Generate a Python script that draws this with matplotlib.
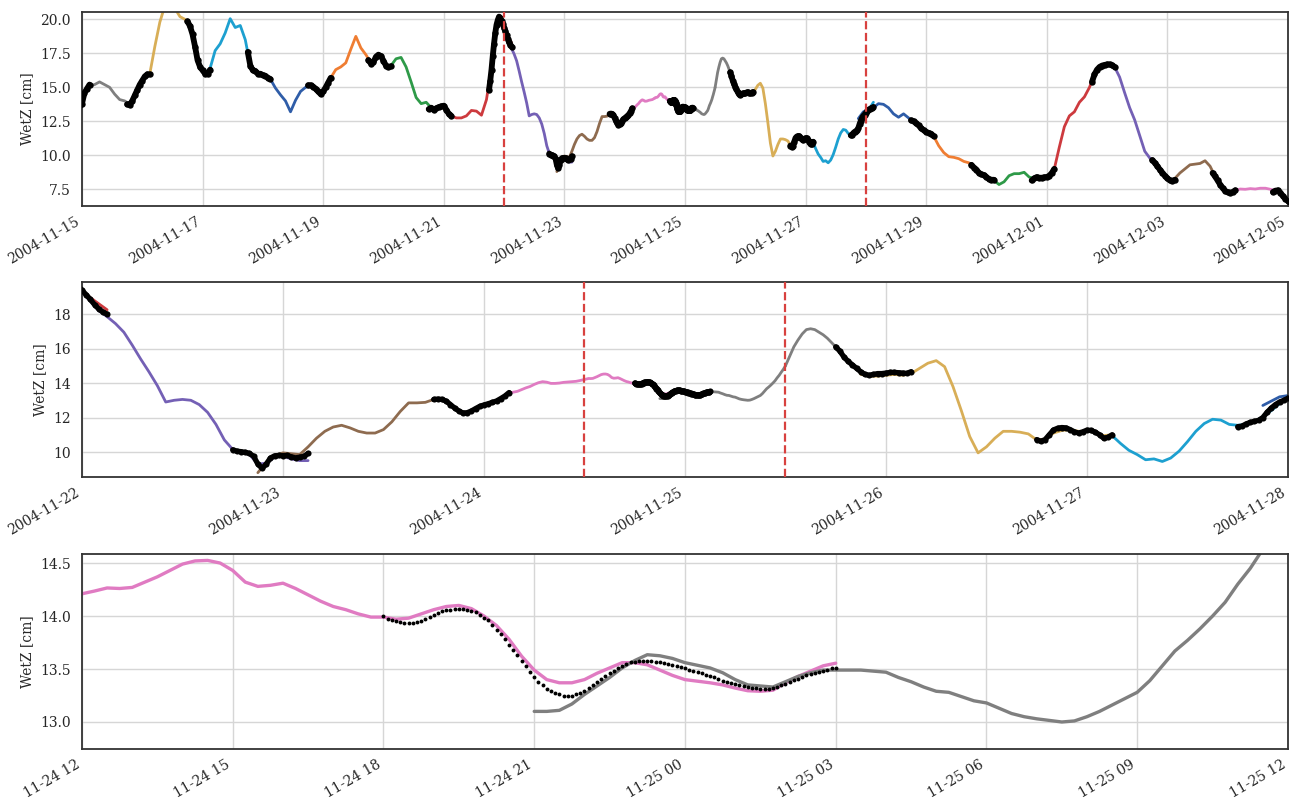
import matplotlib
matplotlib.use("Agg")
import matplotlib.pyplot as plt
import matplotlib.dates as mdates
import pandas as pd

plt.rcParams['font.family'] = ['DejaVu Serif']
plt.rcParams['font.size'] = 10

# Colour cycle used for the daily solutions (one colour per processing day)
palette = ['#2F5DA8', '#EF7D32', '#2E9A48', '#CD3A3E', '#7460B5',
           '#8E6B4F', '#E07BC2', '#7F7F7F', '#D8AE57', '#1DA0D0']
first_color = 7

# ---- daily WetZ solutions [cm]; each one runs 21:00 (day before) -> 03:00 (day after)
wetz_1115 = [13.0, 13.5, 14.5, 15.1, 15.2, 15.4, 15.2, 15.0, 14.5, 14.1, 14.0, 13.75, 14.4, 15.2, 15.8, 15.95]
wetz_1116 = [14.4, 15.2, 15.8, 16.0, 18.0, 19.8, 21.0, 21.4, 20.8, 20.2, 20.0, 19.5, 18.0, 16.5, 16.0, 16.3]
wetz_1117 = [18.0, 16.5, 16.0, 16.4, 17.7, 18.2, 19.0, 20.05, 19.4, 19.55, 18.5, 16.6, 16.2, 16.0, 15.85, 15.6]
wetz_1118 = [16.2, 16.0, 15.85, 15.6, 14.95, 14.45, 14.0, 13.2, 14.05, 14.7, 15.0, 15.1, 14.9, 14.5, 15.0, 15.6]
wetz_1119 = [14.9, 14.5, 15.0, 15.7, 16.3, 16.5, 16.8, 17.8, 18.75, 17.9, 17.4, 16.8, 17.25, 17.3, 16.6, 16.55]
wetz_1120 = [17.25, 17.3, 16.6, 16.6, 17.1, 17.2, 16.5, 15.4, 14.25, 13.8, 13.9, 13.5, 13.5, 13.6, 13.4, 12.95]
wetz_1121 = [13.5, 13.6, 13.3, 12.9, 12.75, 12.75, 12.9, 13.3, 13.25, 12.95, 14.1, 16.5, 19.6, 19.8, 18.95, 18.25]
wetz_1122 = [19.5, 20.1, 19.8, 19.3, 18.75, 18.2, 17.85, 17.45, 16.95, 16.2, 15.4, 14.65, 13.85, 12.9, 13.0,
             13.05, 13.0, 12.75, 12.3, 11.6, 10.7, 10.15, 10.0, 9.85, 9.3, 9.35, 9.7, 9.75, 9.6, 9.5, 9.5]
wetz_1123 = [8.8, 9.4, 9.8, 9.95, 9.9, 9.85, 10.3, 10.8, 11.2, 11.45, 11.55, 11.4, 11.2, 11.1, 11.1, 11.3,
             11.75, 12.35, 12.85, 12.85, 12.88, 13.05, 13.0, 12.75, 12.35, 12.3, 12.5, 12.7, 12.85, 13.1, 13.4]
# 11-24 solution: 30 min samples to 11-24 12:00, then 15 min samples to the end
wetz_1124 = [12.4, 12.3, 12.3, 12.4, 12.5, 12.62, 12.72, 12.8, 12.88, 12.98, 13.12, 13.27, 13.42, 13.47, 13.52,
             13.62, 13.72, 13.8, 13.92, 14.02, 14.08, 14.05, 13.98, 13.98, 14.0, 14.04, 14.06, 14.08, 14.1, 14.15,
             14.21]
wetz_1124_fine = [14.21, 14.236, 14.265, 14.26, 14.27, 14.32, 14.37, 14.43, 14.49, 14.52, 14.525, 14.50,
                  14.43, 14.32, 14.28, 14.29, 14.31, 14.26, 14.20, 14.14, 14.09, 14.06, 14.02, 13.99,
                  13.99, 13.97, 13.98, 14.02, 14.06, 14.09, 14.10, 14.07, 14.00, 13.91, 13.78, 13.62,
                  13.49, 13.40, 13.37, 13.37, 13.40, 13.46, 13.51, 13.56, 13.56, 13.54, 13.49, 13.44,
                  13.40, 13.385, 13.37, 13.35, 13.32, 13.295, 13.29, 13.30, 13.37, 13.43, 13.48, 13.53,
                  13.555]
# 11-25 solution: 15 min samples to 11-25 12:00, then 30 min samples to the end
wetz_1125_fine = [13.10, 13.10, 13.11, 13.17, 13.26, 13.34, 13.42, 13.51, 13.58, 13.635, 13.625, 13.60,
                  13.56, 13.535, 13.51, 13.465, 13.40, 13.35, 13.34, 13.33, 13.38, 13.43, 13.465, 13.49,
                  13.49, 13.49, 13.49, 13.48, 13.47, 13.42, 13.38, 13.33, 13.29, 13.28, 13.24, 13.20,
                  13.18, 13.13, 13.08, 13.05, 13.03, 13.015, 13.00, 13.01, 13.05, 13.10, 13.16, 13.22,
                  13.28, 13.39, 13.53, 13.67, 13.77, 13.88, 14.00, 14.13, 14.30, 14.45, 14.63, 14.80,
                  15.00]
wetz_1125 = [15.00, 15.55, 16.10, 16.50, 16.85, 17.10, 17.15, 17.10, 16.95, 16.80,
             16.60, 16.35, 16.10, 15.85, 15.50, 15.25, 15.05, 14.85, 14.65, 14.50,
             14.45, 14.50, 14.52, 14.55, 14.58, 14.60, 14.60, 14.60, 14.58, 14.55, 14.60]
wetz_1126 = [14.5, 14.4, 14.4, 14.45, 14.5, 14.45, 14.55, 14.85, 15.15, 15.3, 14.95, 13.8, 12.4, 10.9, 9.95,
             10.3, 10.8, 11.2, 11.2, 11.15, 11.05, 10.7, 10.75, 11.1, 11.25, 11.3, 11.2, 11.2, 11.15, 10.95, 11.0]
wetz_1127 = [11.35, 11.3, 11.15, 11.25, 11.15, 10.85, 10.95, 10.5, 10.1, 9.85, 9.55, 9.6, 9.45, 9.65, 10.05,
             10.6, 11.2, 11.65, 11.9, 11.85, 11.6, 11.55, 11.6, 11.75, 12.05, 12.4, 12.8, 13.1, 13.4, 13.6, 13.9]
wetz_1128 = [12.7, 13.2, 13.35, 13.5, 13.8, 13.75, 13.5, 13.05, 12.8, 13.05, 12.75, 12.5, 12.2, 11.85, 11.65, 11.4]
wetz_1129 = [12.2, 11.85, 11.65, 11.4, 10.7, 10.2, 9.9, 9.85, 9.75, 9.55, 9.45, 9.1, 8.7, 8.55, 8.25, 8.2]
wetz_1130 = [8.7, 8.55, 8.25, 8.15, 7.85, 8.05, 8.5, 8.65, 8.65, 8.75, 8.4, 8.3, 8.35, 8.38, 8.5, 9.0]
wetz_1201 = [8.35, 8.38, 8.5, 9.0, 10.6, 12.1, 12.9, 13.2, 13.9, 14.3, 15.0, 15.95, 16.5, 16.65, 16.68, 16.5]
wetz_1202 = [16.5, 16.65, 16.68, 16.5, 15.75, 14.6, 13.5, 12.6, 11.45, 10.3, 9.8, 9.45, 8.95, 8.5, 8.15, 8.2]
wetz_1203 = [8.95, 8.5, 8.15, 8.3, 8.7, 9.0, 9.3, 9.35, 9.4, 9.6, 9.2, 8.45, 7.85, 7.38, 7.25, 7.42]
wetz_1204 = [7.85, 7.38, 7.25, 7.42, 7.52, 7.5, 7.55, 7.52, 7.58, 7.58, 7.5, 7.4, 7.25, 6.8, 6.6, 6.55]

# one entry per processing day: pieces of (first epoch, sampling in minutes, values)
daily = [
    [("2004-11-14 21:00", 120, wetz_1115)], [("2004-11-15 21:00", 120, wetz_1116)],
    [("2004-11-16 21:00", 120, wetz_1117)], [("2004-11-17 21:00", 120, wetz_1118)],
    [("2004-11-18 21:00", 120, wetz_1119)], [("2004-11-19 21:00", 120, wetz_1120)],
    [("2004-11-20 21:00", 120, wetz_1121)], [("2004-11-21 21:00", 60, wetz_1122)],
    [("2004-11-22 21:00", 60, wetz_1123)],
    [("2004-11-23 21:00", 30, wetz_1124), ("2004-11-24 12:00", 15, wetz_1124_fine)],
    [("2004-11-24 21:00", 15, wetz_1125_fine), ("2004-11-25 12:00", 30, wetz_1125)],
    [("2004-11-25 21:00", 60, wetz_1126)], [("2004-11-26 21:00", 60, wetz_1127)],
    [("2004-11-27 21:00", 120, wetz_1128)], [("2004-11-28 21:00", 120, wetz_1129)],
    [("2004-11-29 21:00", 120, wetz_1130)], [("2004-11-30 21:00", 120, wetz_1201)],
    [("2004-12-01 21:00", 120, wetz_1202)], [("2004-12-02 21:00", 120, wetz_1203)],
    [("2004-12-03 21:00", 120, wetz_1204)],
]

# ---- combined solution across the day boundaries (18:00 -> 03:00)
comb_1115 = [13.0, 13.0, 13.2, 13.3, 13.5, 13.6, 13.8, 14.6, 14.9, 15.2]
comb_1116 = [13.75, 13.7, 14.0, 14.4, 14.8, 15.2, 15.5, 15.8, 15.95, 15.95]
comb_1117 = [19.85, 19.5, 18.9, 18.0, 17.0, 16.5, 16.25, 16.0, 16.0, 16.3]
comb_1118 = [17.6, 16.6, 16.25, 16.2, 16.0, 16.0, 15.9, 15.85, 15.7, 15.6]
comb_1119 = [15.15, 15.15, 15.05, 14.9, 14.7, 14.5, 14.7, 15.0, 15.35, 15.7]
comb_1120 = [17.0, 16.75, 16.85, 17.25, 17.4, 17.3, 16.95, 16.6, 16.5, 16.55]
comb_1121 = [13.4, 13.5, 13.35, 13.45, 13.55, 13.6, 13.65, 13.35, 13.05, 12.9]
comb_1122 = [14.8, 15.5, 16.3, 17.3, 18.2, 19.0, 19.6, 19.95, 20.2, 20.1, 19.85, 19.65, 19.39, 19.12,
             18.85, 18.55, 18.3, 18.12, 18.0]
comb_1123 = [10.13, 10.05, 10.02, 9.98, 9.92, 9.75, 9.3, 9.05, 9.3, 9.65, 9.78, 9.8, 9.79, 9.8, 9.72,
             9.66, 9.7, 9.75, 9.92]
comb_1124 = [13.05, 13.07, 13.05, 12.95, 12.75, 12.55, 12.38, 12.26, 12.28, 12.38, 12.52, 12.65, 12.73,
             12.8, 12.88, 12.96, 13.1, 13.25, 13.45]
comb_1125 = [14.00, 13.975, 13.96, 13.95, 13.94, 13.935, 13.93, 13.93, 13.94, 13.955, 13.97, 13.99,
             14.01, 14.03, 14.045, 14.055, 14.06, 14.065, 14.07, 14.07, 14.06, 14.05, 14.035, 14.01,
             13.985, 13.96, 13.92, 13.87, 13.83, 13.78, 13.73, 13.68, 13.635, 13.58, 13.53, 13.47,
             13.42, 13.38, 13.345, 13.31, 13.29, 13.27, 13.26, 13.25, 13.25, 13.25, 13.26, 13.27,
             13.29, 13.32, 13.35, 13.38, 13.41, 13.43, 13.46, 13.48, 13.51, 13.53, 13.55, 13.565,
             13.57, 13.575, 13.58, 13.58, 13.575, 13.57, 13.565, 13.555, 13.545, 13.535, 13.525, 13.515,
             13.505, 13.495, 13.485, 13.475, 13.46, 13.445, 13.43, 13.42, 13.405, 13.39, 13.38, 13.37,
             13.355, 13.345, 13.335, 13.33, 13.325, 13.32, 13.315, 13.315, 13.315, 13.32, 13.33, 13.345,
             13.36, 13.375, 13.395, 13.41, 13.425, 13.44, 13.455, 13.465, 13.475, 13.485, 13.495, 13.505,
             13.51]
comb_1126 = [16.1, 15.85, 15.5, 15.25, 15.05, 14.85, 14.65, 14.5, 14.45, 14.5, 14.55, 14.55, 14.58,
             14.62, 14.62, 14.6, 14.58, 14.56, 14.66]
comb_1127 = [10.72, 10.62, 10.72, 11.0, 11.28, 11.38, 11.42, 11.4, 11.3, 11.17, 11.1, 11.17, 11.27,
             11.25, 11.15, 11.0, 10.8, 10.85, 11.0]
comb_1128 = [11.47, 11.5, 11.63, 11.72, 11.78, 11.84, 12.0, 12.3, 12.55, 12.75, 12.9, 13.0, 13.12,
             13.25, 13.35, 13.4, 13.45, 13.5, 13.55]
comb_1129 = [12.57, 12.5, 12.35, 12.2, 11.98, 11.85, 11.72, 11.65, 11.58, 11.4]
comb_1130 = [9.3, 9.1, 8.95, 8.7, 8.6, 8.55, 8.4, 8.25, 8.2, 8.2]
comb_1201 = [8.15, 8.3, 8.4, 8.35, 8.35, 8.38, 8.4, 8.5, 8.7, 9.0]
comb_1202 = [15.4, 15.95, 16.3, 16.5, 16.6, 16.65, 16.68, 16.68, 16.62, 16.5]
comb_1203 = [9.65, 9.45, 9.2, 8.95, 8.72, 8.5, 8.3, 8.15, 8.12, 8.2]
comb_1204 = [8.7, 8.45, 8.15, 7.85, 7.6, 7.38, 7.28, 7.25, 7.3, 7.42]
comb_1205 = [7.3, 7.4, 7.42, 7.25, 7.0, 6.8, 6.65, 6.6, 6.55, 6.5]

combined = [
    ("2004-11-14 18:00", 60, comb_1115), ("2004-11-15 18:00", 60, comb_1116),
    ("2004-11-16 18:00", 60, comb_1117), ("2004-11-17 18:00", 60, comb_1118),
    ("2004-11-18 18:00", 60, comb_1119), ("2004-11-19 18:00", 60, comb_1120),
    ("2004-11-20 18:00", 60, comb_1121), ("2004-11-21 18:00", 30, comb_1122),
    ("2004-11-22 18:00", 30, comb_1123), ("2004-11-23 18:00", 30, comb_1124),
    ("2004-11-24 18:00", 5, comb_1125), ("2004-11-25 18:00", 30, comb_1126),
    ("2004-11-26 18:00", 30, comb_1127), ("2004-11-27 18:00", 30, comb_1128),
    ("2004-11-28 18:00", 60, comb_1129), ("2004-11-29 18:00", 60, comb_1130),
    ("2004-11-30 18:00", 60, comb_1201), ("2004-12-01 18:00", 60, comb_1202),
    ("2004-12-02 18:00", 60, comb_1203), ("2004-12-03 18:00", 60, comb_1204),
    ("2004-12-04 18:00", 60, comb_1205),
]

panels = [
    dict(xlim=("2004-11-15", "2004-12-05"), ylim=(6.27, 20.54),
         ticks=pd.date_range("2004-11-15", "2004-12-05", freq="2D"), fmt="%Y-%m-%d",
         yticks=[7.5, 10.0, 12.5, 15.0, 17.5, 20.0], marks=["2004-11-22", "2004-11-28"],
         lw=2.0, ms=4.6, trace=4.2, rect=[0.0634, 0.7428, 0.9327, 0.2422]),
    dict(xlim=("2004-11-22", "2004-11-28"), ylim=(8.55, 19.86),
         ticks=pd.date_range("2004-11-22", "2004-11-28", freq="1D"), fmt="%Y-%m-%d",
         yticks=[10, 12, 14, 16, 18], marks=["2004-11-24 12:00", "2004-11-25 12:00"],
         lw=2.0, ms=4.4, trace=3.8, rect=[0.0634, 0.4045, 0.9327, 0.2434]),
    dict(xlim=("2004-11-24 12:00", "2004-11-25 12:00"), ylim=(12.745, 14.585),
         ticks=pd.date_range("2004-11-24 12:00", "2004-11-25 12:00", freq="3h"), fmt="%m-%d %H",
         yticks=[13.0, 13.5, 14.0, 14.5], marks=[],
         lw=2.4, ms=2.8, trace=0, rect=[0.0634, 0.0649, 0.9327, 0.2434]),
]

fig = plt.figure(figsize=(12.93, 8.01), dpi=100)

for p in panels:
    ax = fig.add_axes(p["rect"])
    ax.set_axisbelow(True)
    ax.grid(True, color='#d6d6d6', lw=1.0)
    for i, pieces in enumerate(daily):
        color = palette[(i + first_color) % len(palette)]
        for start, step, vals in pieces:
            t = pd.date_range(start, periods=len(vals), freq=f"{step}min")
            ax.plot(t, vals, color=color, lw=p["lw"],
                    solid_capstyle='round', solid_joinstyle='round', zorder=2)
    for start, step, vals in combined:
        t = pd.date_range(start, periods=len(vals), freq=f"{step}min")
        if p["trace"]:
            # at coarse zoom the dense samples merge into a continuous trace
            ax.plot(t, vals, '-', color='black', lw=p["trace"],
                    solid_capstyle='round', solid_joinstyle='round', zorder=3)
        ax.plot(t, vals, 'o', color='black', ms=p["ms"], mew=0, zorder=3)
    for m in p["marks"]:
        ax.axvline(pd.Timestamp(m), color='#D8413F', ls='--', lw=1.6, zorder=4)
    ax.set_xlim(pd.Timestamp(p["xlim"][0]), pd.Timestamp(p["xlim"][1]))
    ax.set_ylim(*p["ylim"])
    ax.set_xticks(p["ticks"])
    ax.xaxis.set_major_formatter(mdates.DateFormatter(p["fmt"]))
    ax.set_yticks(p["yticks"])
    ax.tick_params(axis='both', length=0, colors='#262626')
    ax.tick_params(axis='x', pad=6)
    ax.tick_params(axis='y', pad=8)
    plt.setp(ax.get_xticklabels(), rotation=30, ha='right')
    ax.set_ylabel("WetZ [cm]", color='#262626')
    for s in ax.spines.values():
        s.set_color('#333333')
        s.set_linewidth(1.3)

fig.savefig("out.png", dpi=100)
